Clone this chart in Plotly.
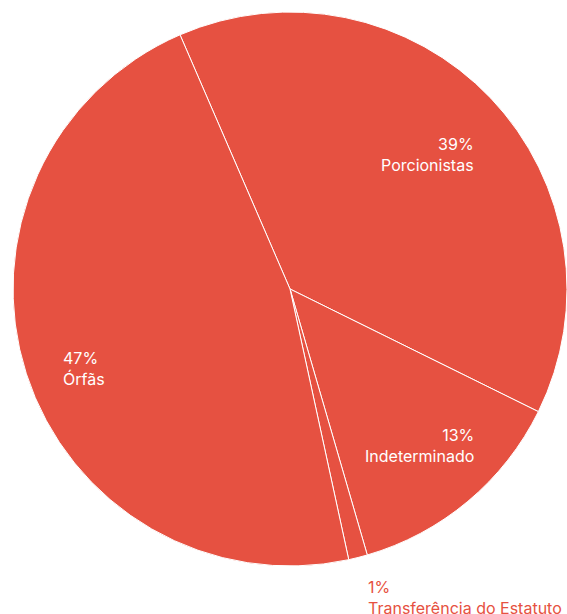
import plotly.graph_objects as go

# Data
categories = ["Porcionistas", "Indeterminado", "Transferência do Estatuto", "Órfãs"]
values = [38.8, 13.2, 1.1, 46.9]
pct_labels = ["39%", "13%", "1%", "47%"]

# Label placement (pixels in 567x614 canvas) and styling
W, H = 567, 614
label_px = [(476, 154, "right", "white"),
            (476, 445, "right", "white"),
            (366, 597, "left", "#e65141"),
            (61, 368, "left", "white")]

fig = go.Figure(go.Pie(
    labels=categories,
    values=values,
    sort=False,
    direction="clockwise",
    rotation=-23.4,
    marker=dict(colors=["#e65141"] * 4, line=dict(color="white", width=1)),
    textinfo="none",
    hoverinfo="label+percent",
    showlegend=False,
    domain=dict(x=[0.023, 1.0], y=[1 - 567 / H, 1 - 11 / H]),
))

for cat, pct, (px, py, anchor, col) in zip(categories, pct_labels, label_px):
    fig.add_annotation(
        x=px / W, y=1 - py / H, xref="paper", yref="paper",
        text=f"{pct}<br>{cat}", showarrow=False,
        xanchor=anchor, yanchor="middle", align=anchor,
        font=dict(family="Inter, Roboto, sans-serif", size=16, color=col),
    )

fig.update_layout(
    width=W, height=H,
    margin=dict(l=0, r=0, t=0, b=0),
    paper_bgcolor="white", plot_bgcolor="white",
)

fig.write_html("out.html")
